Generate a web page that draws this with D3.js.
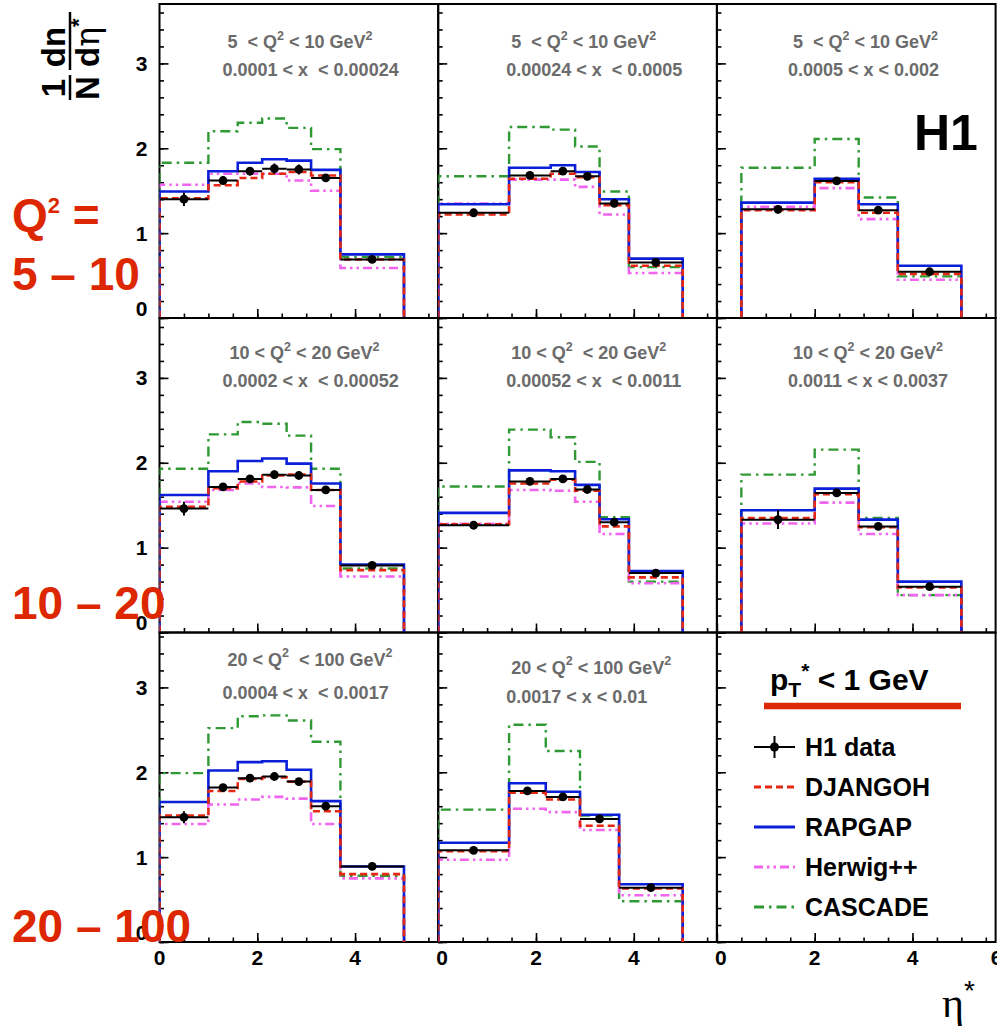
<!DOCTYPE html>
<html><head><meta charset="utf-8">
<script src="https://cdn.jsdelivr.net/npm/d3@7"></script>
<style>
html,body{margin:0;padding:0;background:#fff;}
svg{display:block;font-family:"Liberation Sans",Arial,Helvetica,sans-serif;}
text{white-space:pre;}
</style></head><body>
<svg id="chart" width="997" height="1032"></svg>
<script>
// η* bin edges used by the different x bins
const binsA = [0, 1.0, 1.6, 2.1, 2.6, 3.1, 3.7, 5.0];
const binsB = [0, 1.45, 2.3, 2.8, 3.3, 3.9, 5.0];
const binsC = [0.5, 2.0, 2.9, 3.7, 5.0];
const binsD = [0, 1.45, 2.2, 2.9, 3.7, 5.0];
const panelBins = [binsA, binsB, binsC, binsA, binsB, binsC, binsA, binsD];

// panel captions (Q² range, x range)
const q2Text = [
  "5  < Q^{2} < 10 GeV^{2}", "5  < Q^{2} < 10 GeV^{2}", "5  < Q^{2} < 10 GeV^{2}",
  "10 < Q^{2} < 20 GeV^{2}", "10 < Q^{2}  < 20 GeV^{2}", "10 < Q^{2} < 20 GeV^{2}",
  "20 < Q^{2}  < 100 GeV^{2}", "20 < Q^{2} < 100 GeV^{2}"
];
const xText = [
  "0.0001 < x  < 0.00024", "0.00024 < x  < 0.0005", "0.0005 < x < 0.002",
  "0.0002 < x  < 0.00052", "0.00052 < x  < 0.0011", "0.0011 < x < 0.0037",
  "0.0004 < x  < 0.0017", "0.0017 < x < 0.01"
];
const rowLabels = ["5 \u2013 10", "10 \u2013 20", "20 \u2013 100"];

// H1 data: 1/N dn/dη* and its uncertainty
const h1Data = [
  [1.40, 1.62, 1.73, 1.76, 1.75, 1.65, 0.69],
  [1.24, 1.68, 1.73, 1.67, 1.35, 0.655],
  [1.28, 1.615, 1.27, 0.545],
  [1.46, 1.715, 1.81, 1.86, 1.85, 1.68, 0.79],
  [1.265, 1.78, 1.81, 1.685, 1.30, 0.70],
  [1.33, 1.645, 1.25, 0.54],
  [1.47, 1.82, 1.93, 1.95, 1.89, 1.60, 0.89],
  [1.08, 1.78, 1.71, 1.45, 0.64]
];
const h1Err = [
  [0.08, 0.05, 0.05, 0.06, 0.06, 0.03, 0.02],
  [0.04, 0.03, 0.04, 0.03, 0.03, 0.02],
  [0.05, 0.03, 0.03, 0.02],
  [0.08, 0.03, 0.03, 0.05, 0.03, 0.03, 0.02],
  [0.05, 0.03, 0.03, 0.03, 0.04, 0.02],
  [0.11, 0.04, 0.03, 0.02],
  [0.07, 0.03, 0.03, 0.04, 0.03, 0.03, 0.02],
  [0.04, 0.03, 0.03, 0.03, 0.02]
];
// Monte Carlo predictions
const djangoh = [
  [1.41, 1.565, 1.65, 1.70, 1.72, 1.68, 0.69],
  [1.22, 1.64, 1.70, 1.66, 1.33, 0.615],
  [1.27, 1.60, 1.24, 0.52],
  [1.48, 1.70, 1.78, 1.85, 1.86, 1.68, 0.735],
  [1.275, 1.755, 1.80, 1.67, 1.25, 0.65],
  [1.35, 1.63, 1.24, 0.53],
  [1.49, 1.78, 1.92, 1.94, 1.89, 1.54, 0.80],
  [1.07, 1.76, 1.68, 1.37, 0.63]
];
const rapgap = [
  [1.49, 1.73, 1.83, 1.87, 1.855, 1.745, 0.75],
  [1.34, 1.77, 1.80, 1.72, 1.40, 0.70],
  [1.36, 1.64, 1.34, 0.615],
  [1.62, 1.90, 2.02, 2.05, 1.99, 1.755, 0.80],
  [1.41, 1.91, 1.90, 1.74, 1.335, 0.725],
  [1.44, 1.695, 1.33, 0.60],
  [1.65, 2.02, 2.12, 2.13, 2.03, 1.66, 0.89],
  [1.17, 1.87, 1.77, 1.50, 0.68]
];
const herwig = [
  [1.57, 1.70, 1.70, 1.70, 1.62, 1.50, 0.59],
  [1.35, 1.63, 1.63, 1.545, 1.22, 0.53],
  [1.31, 1.53, 1.165, 0.45],
  [1.54, 1.68, 1.755, 1.715, 1.71, 1.49, 0.66],
  [1.28, 1.68, 1.67, 1.54, 1.16, 0.58],
  [1.285, 1.53, 1.16, 0.44],
  [1.39, 1.62, 1.68, 1.71, 1.69, 1.39, 0.75],
  [0.97, 1.57, 1.53, 1.32, 0.55]
];
const cascade = [
  [1.83, 2.20, 2.30, 2.35, 2.24, 1.99, 0.72],
  [1.67, 2.25, 2.22, 2.02, 1.49, 0.60],
  [1.77, 2.11, 1.42, 0.49],
  [1.93, 2.335, 2.48, 2.46, 2.32, 1.93, 0.755],
  [1.72, 2.39, 2.30, 2.01, 1.36, 0.60],
  [1.86, 2.155, 1.35, 0.44],
  [1.99, 2.52, 2.66, 2.67, 2.61, 2.36, 0.78],
  [1.56, 2.56, 2.25, 1.49, 0.48]
];
const yTicks = [0, 1, 2, 3];
const xTicks = [0, 2, 4];
const xTicksLast = [0, 2, 4, 6];
const legendNames = ["H1 data", "DJANGOH", "RAPGAP", "Herwig++", "CASCADE"];

// ---- layout ----
const colLeft = [159.5, 438.2, 716.9];
const colWidth = 278.7;
const rowTop = [4, 318, 632.5];
const rowBottom = [318, 632.5, 942];
const captionPos = [
  [68, 44, 63, 72], [73, 44, 68, 72], [76, 44, 71, 72],
  [70, 41, 63, 69], [73, 41, 68, 69], [76, 41, 71, 69],
  [68, 33, 63, 66], [73, 41, 68, 70]
];

const styles = {
  cascade: {color: "#2f9a34", dash: "10,5,2.5,5", width: 2.4},
  herwig:  {color: "#f064ee", dash: "9,4,2.5,4,2.5,4", width: 2.6},
  rapgap:  {color: "#0b1fd8", dash: null, width: 2.6},
  djangoh: {color: "#e42814", dash: "7,4", width: 2.6}
};
const RED = "#dc2700";

const svg = d3.select("#chart");
const x = d3.scaleLinear().domain([0, 5.7]).range([0, colWidth]);

function rich(textSel, str, base, small, rise) {
  const parts = str.split(/(\^\{[^}]*\}|_\{[^}]*\})/).filter(s => s.length);
  let cur = 0;
  parts.forEach(s => {
    let target = 0, txt = s, size = base;
    if (s[0] === "^") { target = -rise; txt = s.slice(2, -1); size = small; }
    else if (s[0] === "_") { target = rise * 0.55; txt = s.slice(2, -1); size = small; }
    textSel.append("tspan").attr("dy", target - cur).attr("font-size", size).text(txt);
    cur = target;
  });
}

function stepPoints(edges, vals) {
  const pts = [[edges[0], 0]];
  vals.forEach((v, i) => { pts.push([edges[i], v]); pts.push([edges[i + 1], v]); });
  pts.push([edges[edges.length - 1], 0]);
  return pts;
}

const defs = svg.append("defs");

for (let i = 0; i < 9; i++) {
  const r = Math.floor(i / 3), c = i % 3;
  const h = rowBottom[r] - rowTop[r];
  const y = d3.scaleLinear().domain([0, 3.7 * h / 314]).range([h, 0]);
  const g = svg.append("g").attr("transform", `translate(${colLeft[c]},${rowTop[r]})`);

  defs.append("clipPath").attr("id", "clip" + i)
    .append("rect").attr("x", 0).attr("y", 0).attr("width", colWidth).attr("height", h);

  // axes with inward ticks
  const ax = [
    g.append("g").call(d3.axisLeft(y).tickValues(yTicks).tickSize(-9).tickFormat("")),
    g.append("g").call(d3.axisLeft(y).tickValues(d3.range(0, 3.65, 0.2)).tickSize(-4.5).tickFormat("")),
    g.append("g").attr("transform", `translate(0,${h})`).call(d3.axisBottom(x).tickValues(xTicks).tickSize(-9).tickFormat("")),
    g.append("g").attr("transform", `translate(0,${h})`).call(d3.axisBottom(x).tickValues(d3.range(0.5, 5.6, 0.5)).tickSize(-4.5).tickFormat(""))
  ];
  ax.forEach(a => { a.select(".domain").remove(); a.selectAll("line").attr("stroke", "#000").attr("stroke-width", 1.6); });

  g.append("rect").attr("x", 0).attr("y", 0).attr("width", colWidth).attr("height", h)
    .attr("fill", "none").attr("stroke", "#000").attr("stroke-width", 2);

  if (c === 0) {
    g.selectAll(".ylab").data(yTicks).join("text")
      .attr("x", -12).attr("y", d => y(d) + 7.5 - (d === 0 ? 10 : 0))
      .attr("text-anchor", "end").attr("font-size", 21).attr("font-weight", "bold").text(d => d);
  }
  if (r === 2) {
    const tv = c === 2 ? xTicksLast : xTicks;
    g.selectAll(".xlab").data(tv).join("text")
      .attr("x", d => Math.min(Math.max(x(d), c > 0 ? 4 : 0), colWidth + 1))
      .attr("y", h + 23).attr("text-anchor", "middle")
      .attr("font-size", 21).attr("font-weight", "bold").text(d => d);
  }

  if (i < 8) {
    const edges = panelBins[i];
    const line = d3.line().x(d => x(d[0])).y(d => y(d[1]));
    const hg = g.append("g").attr("clip-path", `url(#clip${i})`);
    [["cascade", cascade], ["herwig", herwig], ["rapgap", rapgap], ["djangoh", djangoh]].forEach(([k, arr]) => {
      const s = styles[k];
      hg.append("path").attr("d", line(stepPoints(edges, arr[i])))
        .attr("fill", "none").attr("stroke", s.color).attr("stroke-width", s.width)
        .attr("stroke-dasharray", s.dash).attr("stroke-linejoin", "miter");
    });
    // data points with horizontal bin width and vertical error
    const pts = h1Data[i].map((v, k) => ({x0: edges[k], x1: edges[k + 1], v, e: h1Err[i][k]}));
    const dg = hg.append("g");
    dg.selectAll(".hb").data(pts).join("line")
      .attr("x1", d => x(d.x0)).attr("x2", d => x(d.x1)).attr("y1", d => y(d.v)).attr("y2", d => y(d.v))
      .attr("stroke", "#000").attr("stroke-width", 2);
    dg.selectAll(".vb").data(pts).join("line")
      .attr("x1", d => x((d.x0 + d.x1) / 2)).attr("x2", d => x((d.x0 + d.x1) / 2))
      .attr("y1", d => y(d.v - d.e)).attr("y2", d => y(d.v + d.e))
      .attr("stroke", "#000").attr("stroke-width", 2);
    dg.selectAll("circle").data(pts).join("circle")
      .attr("cx", d => x((d.x0 + d.x1) / 2)).attr("cy", d => y(d.v)).attr("r", 4.4).attr("fill", "#000");

    const cp = captionPos[i];
    const t1 = g.append("text").attr("x", cp[0]).attr("y", cp[1]).attr("font-size", 18)
      .attr("font-weight", "bold").attr("fill", "#6b6b6b");
    rich(t1, q2Text[i], 18, 12.5, 8.5);
    g.append("text").attr("x", cp[2]).attr("y", cp[3]).attr("font-size", 18)
      .attr("font-weight", "bold").attr("fill", "#6b6b6b").text(xText[i]);
  } else {
    // legend panel
    const lt = g.append("text").attr("x", 770 - colLeft[2]).attr("y", 690 - rowTop[2])
      .attr("font-size", 30).attr("font-weight", "bold");
    rich(lt, "p_{T}^{*} < 1 GeV", 30, 21, 12);
    g.append("line").attr("x1", 764 - colLeft[2]).attr("x2", 961 - colLeft[2])
      .attr("y1", 706 - rowTop[2]).attr("y2", 706 - rowTop[2]).attr("stroke", RED).attr("stroke-width", 6.5);
    const keys = [null, "djangoh", "rapgap", "herwig", "cascade"];
    legendNames.forEach((name, k) => {
      const cy = 747 + k * 40 - rowTop[2];
      const x1 = 754 - colLeft[2], x2 = 795 - colLeft[2];
      if (k === 0) {
        g.append("line").attr("x1", x1).attr("x2", x2).attr("y1", cy).attr("y2", cy).attr("stroke", "#000").attr("stroke-width", 2);
        g.append("line").attr("x1", (x1 + x2) / 2).attr("x2", (x1 + x2) / 2).attr("y1", cy - 11).attr("y2", cy + 11).attr("stroke", "#000").attr("stroke-width", 2);
        g.append("circle").attr("cx", (x1 + x2) / 2).attr("cy", cy).attr("r", 4.5).attr("fill", "#000");
      } else {
        const s = styles[keys[k]];
        g.append("line").attr("x1", x1).attr("x2", x2).attr("y1", cy).attr("y2", cy)
          .attr("stroke", s.color).attr("stroke-width", 3).attr("stroke-dasharray", s.dash);
      }
      g.append("text").attr("x", 805 - colLeft[2]).attr("y", cy + 9).attr("font-size", 25)
        .attr("font-weight", "bold").text(name);
    });
  }
}

// H1 logo
svg.append("text").attr("x", 914).attr("y", 150).attr("font-size", 50).attr("font-weight", "bold").text("H1");

// row labels
const q = svg.append("text").attr("x", 12).attr("y", 231).attr("font-size", 46)
  .attr("font-weight", "bold").attr("fill", RED);
rich(q, "Q^{2} =", 46, 22, 18);
const rowLabelY = [290, 619, 942];
rowLabels.forEach((s, k) => {
  svg.append("text").attr("x", 12).attr("y", rowLabelY[k]).attr("font-size", 46)
    .attr("font-weight", "bold").attr("fill", RED).text(s);
});

// y-axis title: 1/N dn/dη*
const yt = svg.append("g").attr("transform", "translate(70,100) rotate(-90)");
yt.append("text").attr("x", 12).attr("y", -5).attr("text-anchor", "middle").attr("font-size", 33).attr("font-weight", "bold").text("1");
yt.append("text").attr("x", 12).attr("y", 29).attr("text-anchor", "middle").attr("font-size", 33).attr("font-weight", "bold").text("N");
yt.append("line").attr("x1", 0).attr("x2", 25).attr("y1", 0).attr("y2", 0).attr("stroke", "#000").attr("stroke-width", 2.5);
yt.append("text").attr("x", 53).attr("y", -5).attr("text-anchor", "middle").attr("font-size", 33).attr("font-weight", "bold").text("dn");
const den = yt.append("text").attr("x", 33).attr("y", 29).attr("font-size", 33).attr("font-weight", "bold");
den.append("tspan").text("d");
den.append("tspan").attr("font-family", "'DejaVu Serif','Liberation Serif',serif").attr("font-weight", "normal").text("\u03b7");
den.append("tspan").attr("dy", -13).attr("font-size", 22).text("*");
yt.append("line").attr("x1", 30).attr("x2", 88).attr("y1", 0).attr("y2", 0).attr("stroke", "#000").attr("stroke-width", 2.5);

// x-axis title η*
const xt = svg.append("text").attr("x", 942).attr("y", 1017).attr("font-size", 42)
  .attr("font-family", "'Liberation Serif','DejaVu Serif',serif");
xt.append("tspan").text("\u03b7");
xt.append("tspan").attr("dy", -17).attr("font-size", 28).attr("font-family", "'Liberation Sans',Arial,sans-serif").text("*");
</script>
</body></html>
